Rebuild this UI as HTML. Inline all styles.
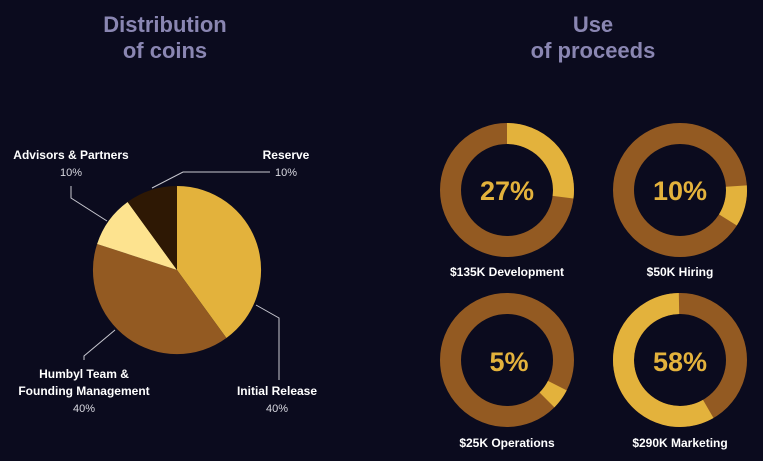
<!DOCTYPE html>
<html><head><style>
html,body{margin:0;padding:0;background:#0b0b1e;}
body{width:763px;height:456px;overflow:hidden;font-family:"Liberation Sans",sans-serif;}
</style></head><body>
<svg width="763" height="456" viewBox="0 0 763 456" xmlns="http://www.w3.org/2000/svg" font-family="Liberation Sans, sans-serif">
<rect width="763" height="456" fill="#0b0b1e"/>
<g fill="#8a86b2" font-size="22" font-weight="bold" text-anchor="middle">
<text x="165" y="32">Distribution</text><text x="165" y="58">of coins</text>
<text x="593" y="32">Use</text><text x="593" y="58">of proceeds</text>
</g>
<g transform="translate(177,270)">
<path d="M0,0 L0,-84 A84,84 0 0 1 49.4,68 Z" fill="#e3b23c"/>
<path d="M0,0 L49.4,68 A84,84 0 0 1 -79.9,-26 Z" fill="#935a22"/>
<path d="M0,0 L-79.9,-26 A84,84 0 0 1 -49.4,-68 Z" fill="#fde38f"/>
<path d="M0,0 L-49.4,-68 A84,84 0 0 1 0,-84 Z" fill="#2e1804"/>
</g>
<g stroke="#c8c8d0" stroke-width="1" fill="none">
<polyline points="71,186 71,198 107,221"/>
<polyline points="270,172 183,172 152,188"/>
<polyline points="84,360 84,356 115,330"/>
<polyline points="256,305 279,318 279,380"/>
</g>
<g fill="#fff" font-size="12" font-weight="bold" text-anchor="middle">
<text x="71" y="159">Advisors &amp; Partners</text>
<text x="286" y="159">Reserve</text>
<text x="84" y="378">Humbyl Team &amp;</text>
<text x="84" y="395">Founding Management</text>
<text x="277" y="395">Initial Release</text>
</g>
<g fill="#d8d8e0" font-size="11" text-anchor="middle">
<text x="71" y="176">10%</text><text x="286" y="176">10%</text>
<text x="84" y="412">40%</text><text x="277" y="412">40%</text>
</g>
<g fill="none" stroke-width="21">
<circle cx="507" cy="190" r="56.5" stroke="#935a22"/>
<circle cx="507" cy="190" r="56.5" stroke="#e3b23c" stroke-dasharray="95.9 400" transform="rotate(-90 507 190)"/>
<circle cx="680" cy="190" r="56.5" stroke="#935a22"/>
<circle cx="680" cy="190" r="56.5" stroke="#e3b23c" stroke-dasharray="35.5 400" transform="rotate(-4 680 190)"/>
<circle cx="507" cy="360" r="56.5" stroke="#935a22"/>
<circle cx="507" cy="360" r="56.5" stroke="#e3b23c" stroke-dasharray="17.7 400" transform="rotate(27 507 360)"/>
<circle cx="680" cy="360" r="56.5" stroke="#935a22"/>
<circle cx="680" cy="360" r="56.5" stroke="#e3b23c" stroke-dasharray="205.9 400" transform="rotate(60 680 360)"/>
</g>
<g fill="#e3b23c" font-size="27" font-weight="bold" text-anchor="middle">
<text x="507" y="200">27%</text><text x="680" y="200">10%</text>
<text x="509" y="371">5%</text><text x="680" y="371">58%</text>
</g>
<g fill="#fff" font-size="12" font-weight="bold" text-anchor="middle">
<text x="507" y="276">$135K Development</text><text x="680" y="276">$50K Hiring</text>
<text x="507" y="447">$25K Operations</text><text x="680" y="447">$290K Marketing</text>
</g>
</svg>
</body></html>
